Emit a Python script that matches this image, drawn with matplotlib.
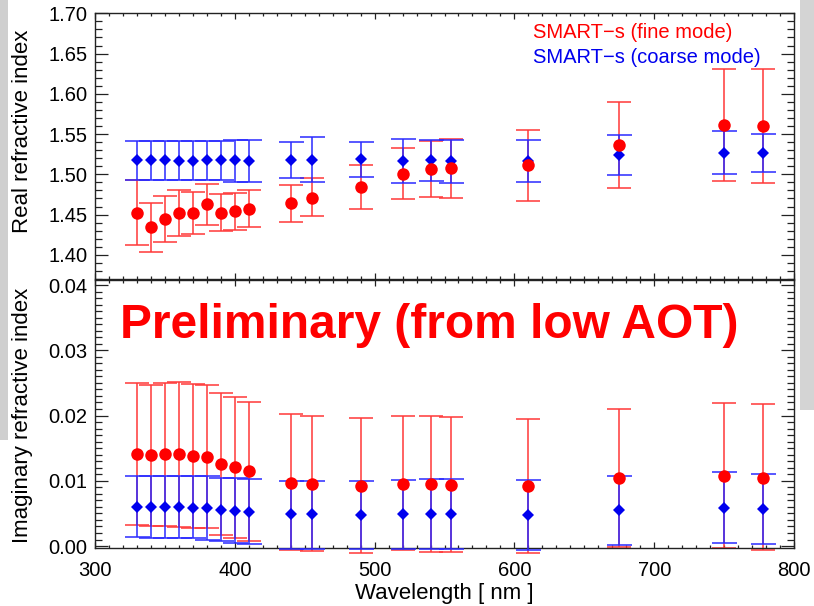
import numpy as np
import matplotlib
matplotlib.use("Agg")
import matplotlib.pyplot as plt
from matplotlib.ticker import MultipleLocator
from matplotlib.patches import Rectangle

plt.rcParams['font.family'] = ['Liberation Sans', 'DejaVu Sans']

# ---- data ----
wavelength = [330, 340, 350, 360, 370, 380, 390, 400, 410, 440, 455, 490, 520, 540, 555, 610, 675, 750, 778]

fine_real = [1.452, 1.434, 1.445, 1.452, 1.452, 1.463, 1.452, 1.454, 1.457, 1.464, 1.471, 1.484, 1.501, 1.506, 1.508, 1.511, 1.536, 1.561, 1.560]
fine_real_hi = [1.493, 1.465, 1.473, 1.480, 1.478, 1.488, 1.476, 1.477, 1.480, 1.487, 1.495, 1.511, 1.533, 1.541, 1.544, 1.555, 1.590, 1.631, 1.631]
fine_real_lo = [1.412, 1.403, 1.416, 1.424, 1.426, 1.437, 1.429, 1.431, 1.435, 1.441, 1.448, 1.457, 1.469, 1.472, 1.471, 1.467, 1.483, 1.492, 1.489]

coarse_real = [1.518, 1.518, 1.518, 1.517, 1.517, 1.518, 1.518, 1.518, 1.517, 1.518, 1.518, 1.519, 1.517, 1.518, 1.516, 1.517, 1.524, 1.527, 1.526]
coarse_real_hi = [1.541, 1.541, 1.541, 1.541, 1.541, 1.541, 1.541, 1.543, 1.543, 1.540, 1.546, 1.540, 1.544, 1.543, 1.543, 1.543, 1.549, 1.554, 1.550]
coarse_real_lo = [1.493, 1.493, 1.493, 1.493, 1.493, 1.493, 1.493, 1.491, 1.491, 1.495, 1.490, 1.497, 1.489, 1.492, 1.489, 1.490, 1.499, 1.500, 1.503]

fine_imag = [0.01415, 0.0139, 0.01405, 0.0141, 0.0138, 0.0137, 0.01257, 0.01206, 0.0115, 0.0097, 0.00955, 0.00924, 0.00955, 0.00948, 0.0094, 0.0092, 0.01037, 0.01073, 0.01047]
fine_imag_hi = [0.0250, 0.0247, 0.0250, 0.0251, 0.0248, 0.0247, 0.0234, 0.0228, 0.0221, 0.0202, 0.0199, 0.0196, 0.0200, 0.0199, 0.0198, 0.0195, 0.0210, 0.0219, 0.0217]
fine_imag_lo = [0.0033, 0.0031, 0.0031, 0.0029, 0.0028, 0.0028, 0.0017, 0.0012, 0.0007, -0.0006, -0.0008, -0.0010, -0.0006, -0.0009, -0.0009, -0.0010, -0.0002, -0.00035, -0.0006]

coarse_imag = [0.0060, 0.0060, 0.0060, 0.0060, 0.0059, 0.0059, 0.0055, 0.0054, 0.0052, 0.0049, 0.0049, 0.0047, 0.0049, 0.0049, 0.0049, 0.0048, 0.0055, 0.0058, 0.0057]
coarse_imag_hi = [0.0107, 0.0107, 0.0107, 0.0107, 0.0107, 0.0107, 0.0105, 0.0104, 0.0103, 0.0100, 0.0100, 0.0100, 0.0101, 0.0102, 0.0102, 0.0101, 0.0108, 0.0113, 0.0111]
coarse_imag_lo = [0.0014, 0.0013, 0.0013, 0.0012, 0.0012, 0.0010, 0.0007, 0.0005, 0.0003, -0.0005, -0.0005, -0.0005, -0.0005, -0.0005, -0.0005, -0.0006, 0.00015, 0.0004, 0.00026]

xticks = [300, 400, 500, 600, 700, 800]
real_ticks = [1.40, 1.45, 1.50, 1.55, 1.60, 1.65, 1.70]
imag_ticks = [0.00, 0.01, 0.02, 0.03, 0.04]

label_fine = "SMART\u2212s (fine mode)"
label_coarse = "SMART\u2212s (coarse mode)"

RED = '#ff0000'
RED_ERR = '#ff3838'
BLUE = '#0000ee'
BLUE_ERR = '#2a2aff'

fig = plt.figure(figsize=(8.14, 6.06), dpi=100)
fig.patch.set_facecolor('white')

# slide-edge shading
fig.patches.append(Rectangle((0, 1 - 440/606), 8/814, 440/606, transform=fig.transFigure,
                             facecolor='#cfcfcf', edgecolor='none', zorder=-5))
fig.patches.append(Rectangle((800/814, 1 - 410/606), 14/814, 410/606, transform=fig.transFigure,
                             facecolor='#d4d4d4', edgecolor='none', zorder=-5))

L, W = 95/814, 699/814
ax1 = fig.add_axes([L, 1 - 279/606, W, (279 - 13.3)/606])
ax2 = fig.add_axes([L, 1 - 548/606, W, (548 - 280)/606])


def err(v, lo, hi):
    v = np.asarray(v); lo = np.asarray(lo); hi = np.asarray(hi)
    return [v - lo, hi - v]


def draw(ax, cv, clo, chi, fv, flo, fhi, clip):
    e1 = ax.errorbar(wavelength, fv, yerr=err(fv, flo, fhi), fmt='none', ecolor=RED_ERR,
                     elinewidth=1.1, capsize=8.5, capthick=1.1, zorder=2)
    e2 = ax.errorbar(wavelength, cv, yerr=err(cv, clo, chi), fmt='none', ecolor=BLUE_ERR,
                     elinewidth=1.1, capsize=9, capthick=1.1, zorder=3)
    for e in (e1, e2):
        for art in e.lines[1] + e.lines[2]:
            art.set_clip_on(clip)
    ax.plot(wavelength, cv, linestyle='none', marker='D', markersize=6.2,
            color=BLUE, markeredgewidth=0, zorder=4, clip_on=clip)
    ax.plot(wavelength, fv, linestyle='none', marker='o', markersize=9,
            color=RED, markeredgewidth=0, zorder=5, clip_on=clip)


draw(ax1, coarse_real, coarse_real_lo, coarse_real_hi, fine_real, fine_real_lo, fine_real_hi, True)
draw(ax2, coarse_imag, coarse_imag_lo, coarse_imag_hi, fine_imag, fine_imag_lo, fine_imag_hi, False)

for ax in (ax1, ax2):
    ax.set_xlim(300, 800)
    ax.set_xticks(xticks)
    ax.xaxis.set_minor_locator(MultipleLocator(10))
    ax.tick_params(axis='both', which='both', direction='in', top=True, right=True,
                   labelsize=14.5, width=0.9, colors='#222222', labelcolor='black')
    ax.tick_params(axis='x', which='major', length=4.5, pad=9)
    ax.tick_params(axis='x', which='minor', length=2.3)
    ax.tick_params(axis='y', which='major', length=9.5, pad=5.5)
    ax.tick_params(axis='y', which='minor', length=5)
    for s in ax.spines.values():
        s.set_linewidth(1.0)
        s.set_color('#222222')

ax1.set_ylim(1.37, 1.70)
ax1.set_yticks(real_ticks)
ax1.set_yticklabels([f"{t:.2f}" for t in real_ticks])
ax1.yaxis.set_minor_locator(MultipleLocator(0.01))
ax1.tick_params(axis='x', labelbottom=False)
ax1.set_ylabel("Real refractive index", fontsize=16)
ax1.yaxis.set_label_coords(-0.089, 0.555)

ax2.set_ylim(-0.0003, 0.04077)
ax2.set_yticks(imag_ticks)
ax2.set_yticklabels([f"{t:.2f}" for t in imag_ticks])
ax2.yaxis.set_minor_locator(MultipleLocator(0.001))
ax2.set_xticklabels([str(t) for t in xticks])
ax2.set_ylabel("Imaginary refractive index", fontsize=16)
ax2.yaxis.set_label_coords(-0.089, 0.496)
ax2.set_xlabel("Wavelength [ nm ]", fontsize=16)
ax2.xaxis.set_label_coords(0.5, -0.132)

ax1.text(0.6266, 0.9296, label_fine, transform=ax1.transAxes, color=RED,
         fontsize=14.5, ha='left', va='center')
ax1.text(0.6266, 0.8318, label_coarse, transform=ax1.transAxes, color=BLUE,
         fontsize=14.5, ha='left', va='center')

ax2.text(0.0358, 0.832, "Preliminary (from low AOT)", transform=ax2.transAxes,
         color=RED, fontsize=34.5, fontweight='bold', ha='left', va='center')

fig.savefig("out.png", dpi=100)
